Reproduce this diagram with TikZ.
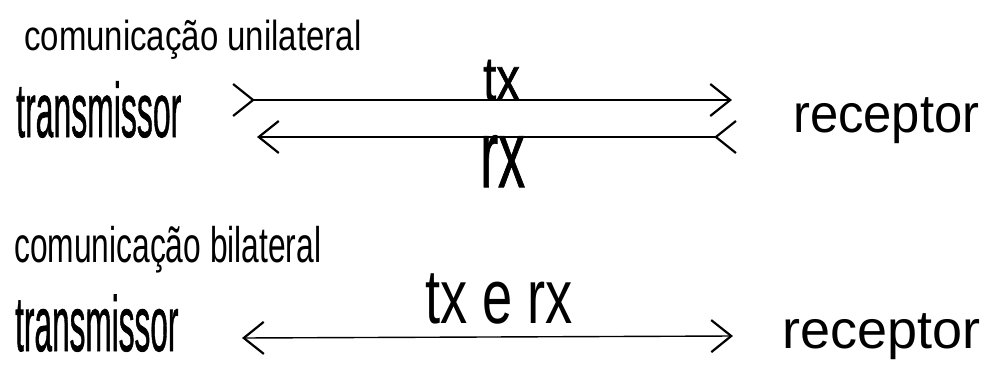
\documentclass[tikz,border=0pt]{standalone}
\usepackage{fontspec}
\setmainfont{Liberation Sans}
\newfontfamily\heavyfont[FakeBold=1.1]{Liberation Sans}
\usepackage{graphicx}
\usetikzlibrary{arrows.meta}

\newcommand{\narrow}[2]{\scalebox{#1}[1]{#2}}
\newcommand{\fsz}[1]{\fontsize{#1}{#1}\selectfont}

\begin{document}
\begin{tikzpicture}[
    x=1pt, y=-1pt,
    >={Straight Barb[length=20pt, width=32pt, line width=2.2pt]},
    link/.style={line width=1.4pt},
    label/.style={inner sep=0pt, anchor=base west}
]
    \useasboundingbox (0,0) rectangle (992,364);

    % unilateral
    \node[label, font=\fsz{42}] (unititle) at (24,50)
        {\narrow{0.785}{comunicação unilateral}};
    \node[label, font=\heavyfont\fsz{77}] (unitx) at (16,137)
        {\narrow{0.415}{transmissor}};
    \node[label, font=\fsz{54}] (unirx) at (793,132)
        {\narrow{0.94}{receptor}};

    \coordinate (txstart) at (232,100);
    \coordinate (txend) at (732,100);
    \coordinate (rxstart) at (257,137);
    \coordinate (rxend) at (737,137);

    \draw[link, >->] (txstart) -- (txend);
    \draw[link, <-<] (rxstart) -- (rxend);

    \node[label, font=\heavyfont\fsz{62}] (txlabel) at (483,100) {\narrow{0.76}{tx}};
    \node[label, font=\heavyfont\fsz{96}] (rxlabel) at (480,187) {\narrow{0.56}{rx}};

    % bilateral
    \node[label, font=\fsz{50}] (bititle) at (14,262)
        {\narrow{0.635}{comunicação bilateral}};
    \node[label, font=\heavyfont\fsz{78}] (bitx) at (15,351)
        {\narrow{0.405}{transmissor}};
    \node[label, font=\fsz{54}] (birx) at (782,348)
        {receptor};

    \coordinate (bistart) at (242,338);
    \coordinate (biend) at (733,336);
    \draw[link, <->] (bistart) -- (biend);

    \node[label, font=\fsz{77}] (bilabel) at (425,323)
        {\narrow{0.705}{tx e rx}};

\end{tikzpicture}
\end{document}
